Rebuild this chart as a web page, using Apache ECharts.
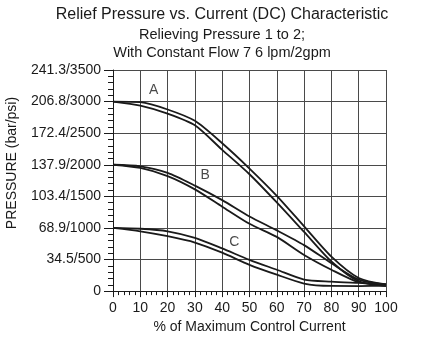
<!DOCTYPE html>
<html>
<head>
<meta charset="utf-8">
<script src="https://cdn.jsdelivr.net/npm/echarts@6/dist/echarts.min.js"></script>
<style>
  html, body { margin: 0; padding: 0; background: #fff; }
  #main { width: 444px; height: 339px; }
</style>
</head>
<body>
<div id="main"></div>
<script>
// % of max control current
const xPct = [0, 10, 20, 30, 40, 50, 60, 70, 80, 90, 100];

// pressure in psi, two traces per curve (upper / lower)
const aUpper = [3000, 2990, 2875, 2695, 2340, 1940, 1508, 1025, 546, 208, 105];
const aLower = [3000, 2937, 2810, 2626, 2236, 1850, 1404, 936, 468, 156, 85];
const bUpper = [2000, 1976, 1872, 1670, 1440, 1181, 962, 728, 441, 182, 100];
const bLower = [2000, 1950, 1820, 1610, 1337, 1065, 858, 572, 338, 140, 85];
const cUpper = [1000, 987, 947, 842, 675, 494, 338, 182, 150, 130, 110];
const cLower = [1000, 947, 869, 769, 608, 416, 260, 120, 82, 80, 85];

// y tick labels bar/psi
const yTickLabels = ['0', '34.5/500', '68.9/1000', '103.4/1500', '137.9/2000', '172.4/2500', '206.8/3000', '241.3/3500'];

// curve letters
const tagNames = ['A', 'B', 'C'];
const tagX = [14.9, 33.8, 44.4];
const tagY = [3187, 1836, 780];

const FONT = 'Liberation Sans, Arial, sans-serif';
const INK = '#1a1a1a';
const GRID = '#4a4a4a';

const myChart = echarts.init(document.getElementById('main'));

const pairs = (ys) => xPct.map((x, i) => [x, ys[i]]);

const curve = (ys) => ({
    type: 'line',
    data: pairs(ys),
    smooth: 0.25,
    symbol: 'none',
    lineStyle: { color: INK, width: 1.8 },
    silent: true,
    z: 3
});

const option = {
    animation: false,
    title: {
        text: 'Relief Pressure vs. Current (DC) Characteristic',
        subtext: 'Relieving Pressure 1 to 2;\nWith Constant Flow 7 6 lpm/2gpm',
        left: 'center',
        top: 6,
        itemGap: 2,
        padding: 0,
        textStyle: { fontFamily: FONT, fontSize: 16, fontWeight: 'normal', color: INK, lineHeight: 18 },
        subtextStyle: { fontFamily: FONT, fontSize: 14.5, color: INK, lineHeight: 18 }
    },
    grid: { left: 113, right: 58, top: 70, bottom: 44 },
    xAxis: {
        type: 'value',
        min: 0,
        max: 100,
        interval: 10,
        name: '% of Maximum Control Current',
        nameLocation: 'middle',
        nameGap: 26,
        nameTextStyle: { fontFamily: FONT, fontSize: 14, color: INK },
        axisLine: { lineStyle: { color: INK, width: 1 } },
        axisTick: { inside: false, length: 6, lineStyle: { color: INK } },
        minorTick: { show: true, splitNumber: 5, length: 4, lineStyle: { color: INK } },
        axisLabel: { fontFamily: FONT, fontSize: 14, color: INK, margin: 10 },
        splitLine: { show: true, lineStyle: { color: GRID, width: 1 } }
    },
    yAxis: {
        type: 'value',
        min: 0,
        max: 3500,
        interval: 500,
        axisLine: { show: true, lineStyle: { color: INK, width: 1 } },
        axisTick: { show: true, inside: false, length: 9, lineStyle: { color: INK } },
        minorTick: { show: true, splitNumber: 5, length: 5, lineStyle: { color: INK } },
        axisLabel: {
            fontFamily: FONT, fontSize: 14, color: INK, margin: 12,
            formatter: (v) => yTickLabels[Math.round(v / 500)]
        },
        splitLine: { show: true, lineStyle: { color: GRID, width: 1 } }
    },
    graphic: [{
        type: 'text',
        x: 12,
        y: 163,
        rotation: Math.PI / 2,
        style: {
            text: 'PRESSURE (bar/psi)',
            font: '14px ' + FONT,
            fill: INK,
            textAlign: 'center',
            textVerticalAlign: 'middle'
        }
    }],
    series: [
        curve(aUpper), curve(aLower),
        curve(bUpper), curve(bLower),
        curve(cUpper), curve(cLower),
        {
            type: 'scatter',
            symbolSize: 0,
            silent: true,
            data: tagNames.map((n, i) => ({ name: n, value: [tagX[i], tagY[i]] })),
            label: {
                show: true,
                position: 'inside',
                formatter: '{b}',
                fontFamily: FONT,
                fontSize: 14,
                color: INK
            }
        }
    ]
};

myChart.setOption(option);
</script>
</body>
</html>
